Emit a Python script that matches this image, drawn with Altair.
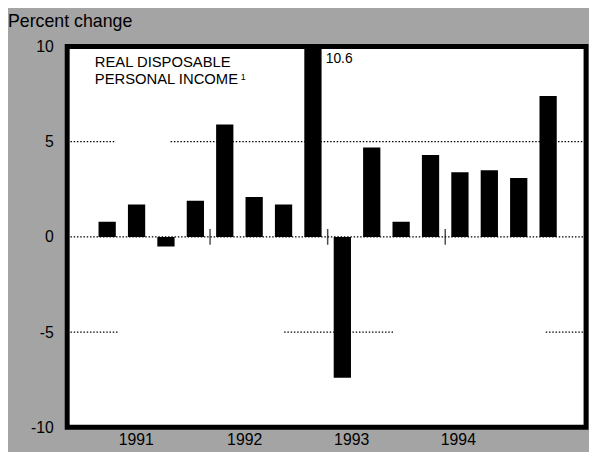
import altair as alt
import pandas as pd

# Quarterly percent change, real disposable personal income
quarters = ["1991 Q1", "1991 Q2", "1991 Q3", "1991 Q4",
            "1992 Q1", "1992 Q2", "1992 Q3", "1992 Q4",
            "1993 Q1", "1993 Q2", "1993 Q3", "1993 Q4",
            "1994 Q1", "1994 Q2", "1994 Q3", "1994 Q4"]
values = [0.8, 1.7, -0.5, 1.9,
          5.9, 2.1, 1.7, 10.6,
          -7.4, 4.7, 0.8, 4.3,
          3.4, 3.5, 3.1, 7.4]

years = ["1991", "1992", "1993", "1994"]
year_label_at = [0.97, 4.66, 8.3, 11.93]      # quarter-index where year labels sit
year_breaks = [3.5, 7.5, 11.5]                 # boundaries between years

y_ticks = [-10, -5, 0, 5, 10]
grid_y = [5, 5, 0, -5, -5, -5]
grid_from = [-1.36, 2.16, -1.36, -1.36, 6.02, 14.92]
grid_to = [0.29, 16.29, 16.29, 0.39, 9.78, 16.29]

X_DOMAIN = [-1.36, 16.29]
Y_DOMAIN = [-10, 10]
FONT = "Liberation Sans"
W, H = 526, 386

bars_df = pd.DataFrame({"quarter": quarters, "value": values,
                        "idx": list(range(len(quarters)))})
grid_df = pd.DataFrame({"y": grid_y, "x0": grid_from, "x1": grid_to})
breaks_df = pd.DataFrame({"x": year_breaks, "y": [0] * len(year_breaks)})
peak_df = bars_df[bars_df["value"] > 10].assign(label=lambda d: d["value"].map(lambda v: f"{v:.1f}"))

xscale = alt.Scale(domain=X_DOMAIN, nice=False, zero=False, padding=0)
yscale = alt.Scale(domain=Y_DOMAIN, nice=False, zero=False, padding=0)

label_expr = ("datum.value < 2 ? '" + years[0] + "' : datum.value < 6 ? '" + years[1] +
              "' : datum.value < 10 ? '" + years[2] + "' : '" + years[3] + "'")

xaxis = alt.Axis(values=year_label_at, labelExpr=label_expr, labelPadding=4)
yaxis = alt.Axis(values=y_ticks, labelPadding=14,
                 labelExpr="datum.value < 0 ? '-' + abs(datum.value) : '' + datum.value")

frame_df = pd.DataFrame({"x0": [X_DOMAIN[0]], "x1": [X_DOMAIN[1]],
                         "y0": [Y_DOMAIN[0]], "y1": [Y_DOMAIN[1]]})
panel = alt.Chart(frame_df).mark_rect(fill="white", fillOpacity=1, strokeWidth=0).encode(
    x=alt.X("x0:Q", scale=xscale, title=None, axis=xaxis), x2="x1:Q",
    y=alt.Y("y0:Q", scale=yscale, title=None, axis=yaxis), y2="y1:Q",
)

bars = alt.Chart(bars_df).mark_bar(color="black", size=17.5, clip=True).encode(
    x=alt.X("idx:Q", scale=xscale, title=None, axis=xaxis),
    y=alt.Y("value:Q", scale=yscale, title=None, axis=yaxis),
    y2=alt.datum(0),
)

grid = alt.Chart(grid_df).mark_rule(color="black", strokeWidth=1.2, strokeDash=[1.5, 1.8]).encode(
    x=alt.X("x0:Q", scale=xscale, title=None, axis=xaxis),
    x2="x1:Q",
    y=alt.Y("y:Q", scale=yscale, title=None, axis=yaxis),
)

breaks = alt.Chart(breaks_df).mark_tick(color="black", orient="vertical", size=16, thickness=1.5).encode(
    x=alt.X("x:Q", scale=xscale, title=None, axis=xaxis),
    y=alt.Y("y:Q", scale=yscale, title=None, axis=yaxis),
)

peak = alt.Chart(peak_df).mark_text(align="left", baseline="top", dx=13, dy=6,
                                    fontSize=14, font=FONT, color="black").encode(
    x=alt.X("idx:Q", scale=xscale, title=None, axis=xaxis),
    y=alt.Y("y:Q", scale=yscale, title=None, axis=yaxis),
    text="label:N",
).transform_calculate(y=str(Y_DOMAIN[1]))

title_in = alt.Chart(pd.DataFrame({"t": [0]})).mark_text(
    align="left", baseline="top", fontSize=15, font=FONT, color="black", lineHeight=17
).encode(x=alt.value(28), y=alt.value(9),
         text=alt.value(["REAL DISPOSABLE", "PERSONAL INCOME"]))

footnote = alt.Chart(pd.DataFrame({"t": [0]})).mark_text(
    align="left", baseline="top", fontSize=9, font=FONT, color="black"
).encode(x=alt.value(176), y=alt.value(27), text=alt.value("1"))

unit = alt.Chart(pd.DataFrame({"t": [0]})).mark_text(
    align="left", baseline="top", fontSize=18, font=FONT, color="black"
).encode(x=alt.value(-60), y=alt.value(-34), text=alt.value("Percent change"))

frame = alt.Chart(frame_df).mark_rect(
    fillOpacity=0, stroke="black", strokeWidth=5, strokeOpacity=1
).encode(
    x=alt.X("x0:Q", scale=xscale, title=None, axis=xaxis), x2="x1:Q",
    y=alt.Y("y0:Q", scale=yscale, title=None, axis=yaxis), y2="y1:Q",
)

chart = alt.layer(panel, bars, grid, breaks, peak, title_in, footnote, unit, frame).properties(
    width=W, height=H,
    autosize=alt.AutoSizeParams(type="none"),
    padding={"left": 60, "top": 36, "right": 3, "bottom": 22},
    background="#a4a4a4",
).configure(
    font=FONT
).configure_axis(
    grid=False, domain=False, ticks=False, labelFontSize=16,
    labelColor="black", labelFont=FONT
).configure_view(
    fill="white", strokeWidth=0
)

chart.save("out.html", embed_options={"renderer": "svg", "actions": False})
